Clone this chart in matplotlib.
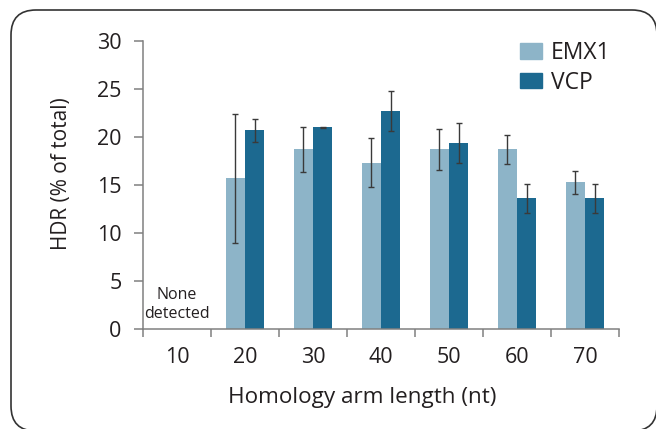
import numpy as np
import matplotlib
matplotlib.use("Agg")
import matplotlib.pyplot as plt
from matplotlib.patches import FancyBboxPatch, Patch
from matplotlib.transforms import IdentityTransform

plt.rcParams['font.family'] = ['Open Sans', 'DejaVu Sans']

# 数据
arm_lengths = ['10', '20', '30', '40', '50', '60', '70']
emx1 = [np.nan, 15.7, 18.7, 17.3, 18.7, 18.7, 15.3]
emx1_err = [np.nan, 6.7, 2.3, 2.55, 2.1, 1.55, 1.2]
vcp = [np.nan, 20.7, 21.0, 22.7, 19.35, 13.6, 13.6]
vcp_err = [np.nan, 1.2, 0.05, 2.1, 2.1, 1.55, 1.55]

c_emx1 = '#8db4c8'
c_vcp = '#1c6990'
c_axis = '#808080'
c_text = '#231f20'

fig = plt.figure(figsize=(6.56, 4.29), dpi=100)
ax = fig.add_axes([143 / 656, 1 - 329 / 429, 476 / 656, 288 / 429])

x = np.arange(len(arm_lengths))
w = 0.285
err_kw = dict(ecolor='#3a3a3a', elinewidth=1.0, capsize=2, capthick=1.0)
ax.bar(x - w / 2, emx1, w, color=c_emx1, yerr=emx1_err, error_kw=err_kw, zorder=2)
ax.bar(x + w / 2, vcp, w, color=c_vcp, yerr=vcp_err, error_kw=err_kw, zorder=2)

ax.set_xlim(-0.5, len(arm_lengths) - 0.5)
ax.set_ylim(0, 30)

# 刻度在类别之间，标签在中间
ax.set_xticks(np.arange(len(arm_lengths) + 1) - 0.5)
ax.set_xticklabels([])
ax.set_xticks(x, minor=True)
ax.set_xticklabels(arm_lengths, minor=True)
ax.tick_params(axis='x', which='major', length=6, width=1.1, color=c_axis, direction='out')
ax.tick_params(axis='x', which='minor', length=0, pad=13, labelsize=15.5, labelcolor=c_text)
ax.set_yticks(np.arange(0, 31, 5))
ax.tick_params(axis='y', length=6.5, width=1.1, color=c_axis, pad=9, labelsize=15.5,
               labelcolor=c_text)

for side in ['top', 'right']:
    ax.spines[side].set_visible(False)
for side in ['left', 'bottom']:
    ax.spines[side].set_color(c_axis)
    ax.spines[side].set_linewidth(1.1)

ax.text(0, 2.55, 'None\ndetected', ha='center', va='center', fontsize=11.5,
        color=c_text, linespacing=1.2)

fig.text(61 / 656, 1 - 174 / 429, 'HDR (% of total)', rotation=90, ha='center',
         va='center', fontsize=15, color=c_text)
fig.text(362 / 656, 1 - 397 / 429, 'Homology arm length (nt)', ha='center',
         va='center', fontsize=16.2, color=c_text)

handles = [Patch(color=c_emx1, label='EMX1'), Patch(color=c_vcp, label='VCP')]
ax.legend(handles=handles, loc='upper left', bbox_to_anchor=(520 / 656, 1 - 41 / 429),
          bbox_transform=fig.transFigure, frameon=False, fontsize=16.5,
          handlelength=0.95, handleheight=0.65, handletextpad=0.4, labelspacing=0.25,
          borderpad=0, borderaxespad=0, labelcolor=c_text)

# 圆角外框
box = FancyBboxPatch((11, -2), 646, 421, boxstyle='round,pad=0,rounding_size=25',
                     transform=IdentityTransform(), fill=False, edgecolor='#333333',
                     linewidth=1.2)
fig.add_artist(box)

fig.savefig('out.png', dpi=100)
